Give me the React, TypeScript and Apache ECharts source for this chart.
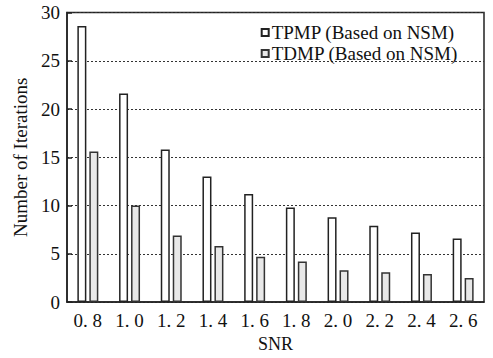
import React, { useEffect, useRef } from "react";
import * as echarts from "echarts";

const categories = ["0. 8", "1. 0", "1. 2", "1. 4", "1. 6", "1. 8", "2. 0", "2. 2", "2. 4", "2. 6"];
const tpmp = [28.6, 21.6, 15.8, 13.0, 11.2, 9.8, 8.8, 7.9, 7.2, 6.6];
const tdmp = [15.6, 10.0, 6.9, 5.8, 4.7, 4.2, 3.3, 3.1, 2.9, 2.5];
const seriesNames = ["TPMP (Based on NSM)", "TDMP (Based on NSM)"];

const FONT = "'Liberation Serif', 'Times New Roman', 'DejaVu Serif', serif";

export default function App() {
  const ref = useRef<HTMLDivElement>(null);
  useEffect(() => {
    if (!ref.current) return;
    const chart = echarts.init(ref.current, undefined, { renderer: "svg" });
    chart.setOption({
      animation: false,
      backgroundColor: "#fff",
      textStyle: { fontFamily: FONT },
      grid: {
        left: 67,
        right: 9,
        top: 12.5,
        bottom: 55.5,
        show: true,
        borderColor: "#222",
        borderWidth: 1.5,
      },
      legend: {
        orient: "vertical",
        right: 30,
        top: 18,
        itemWidth: 7,
        itemHeight: 7,
        itemGap: 2,
        icon: "rect",
        textStyle: { fontFamily: FONT, fontSize: 19, color: "#111", padding: [0, 0, 0, -2] },
        data: seriesNames,
      },
      xAxis: {
        type: "category",
        data: categories,
        axisLine: { lineStyle: { color: "#222", width: 1.5 } },
        axisTick: { show: false },
        axisLabel: { fontFamily: FONT, fontSize: 19, color: "#111", margin: 9 },
        name: "SNR",
        nameLocation: "middle",
        nameGap: 32,
        nameTextStyle: { fontFamily: FONT, fontSize: 18, color: "#111" },
      },
      yAxis: {
        type: "value",
        min: 0,
        max: 30,
        interval: 5,
        axisLine: { show: true, lineStyle: { color: "#222", width: 1.5 } },
        axisTick: { show: true, inside: true, length: 5, lineStyle: { color: "#222", width: 1.5 } },
        axisLabel: { fontFamily: FONT, fontSize: 19, color: "#111", margin: 7 },
        splitLine: { show: true, lineStyle: { color: "#333", type: [2, 2], width: 1.2 } },
        name: "Number of Iterations",
        nameLocation: "middle",
        nameGap: 37,
        nameTextStyle: { fontFamily: FONT, fontSize: 19, color: "#111" },
      },
      series: [
        {
          name: seriesNames[0],
          type: "bar",
          data: tpmp,
          barWidth: 9,
          barGap: "33%",
          itemStyle: { color: "#ffffff", borderColor: "#222", borderWidth: 1.5 },
        },
        {
          name: seriesNames[1],
          type: "bar",
          data: tdmp,
          barWidth: 9,
          barGap: "33%",
          itemStyle: { color: "#e8e8e8", borderColor: "#333", borderWidth: 1.5 },
        },
      ],
    });
    return () => chart.dispose();
  }, []);
  return <div ref={ref} style={{ width: 493, height: 358, position: "absolute", left: 0, top: 0 }} />;
}
